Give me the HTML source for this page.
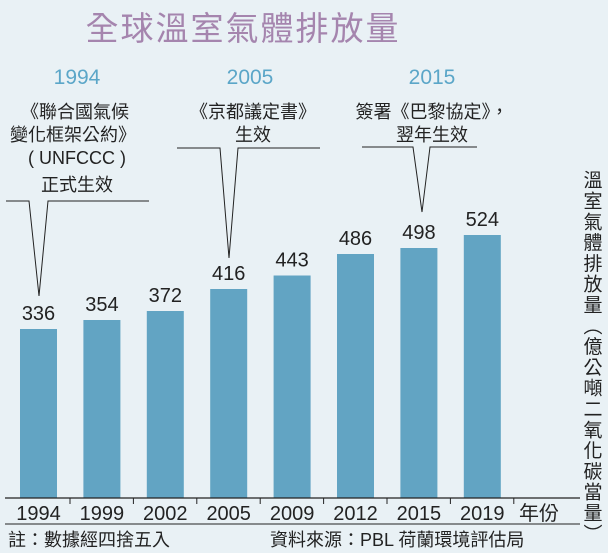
<!DOCTYPE html>
<html><head><meta charset="utf-8"><style>
body{margin:0;background:#e9f1f5;}
svg{display:block;font-family:"Liberation Sans","Noto Sans CJK TC",sans-serif;}
</style></head><body>
<svg width="608" height="553" viewBox="0 0 608 553" xmlns="http://www.w3.org/2000/svg">
<rect width="608" height="553" fill="#e9f1f5"/>
<text x="243" y="40" font-size="33" fill="#a585ae" text-anchor="middle" letter-spacing="2">全球溫室氣體排放量</text>
<g font-size="21" fill="#5ba6c8" text-anchor="middle">
<text x="77" y="84">1994</text>
<text x="250" y="84">2005</text>
<text x="432" y="84">2015</text>
</g>
<g font-size="18" fill="#222" text-anchor="middle">
<text x="75" y="118">《聯合國氣候</text>
<text x="73" y="141">變化框架公約》</text>
<text x="77" y="164">( UNFCCC )</text>
<text x="77" y="191">正式生效</text>
<text x="253" y="118">《京都議定書》</text>
<text x="253" y="141">生效</text>
<text x="432" y="118">簽署《巴黎協定》，</text>
<text x="432" y="141">翌年生效</text>
</g>
<g fill="none" stroke="#222" stroke-width="1">
<polyline points="6,201 29,201 39,296 48,201 149,201"/>
<polyline points="177,148 220,148 229,258 238,148 320,148"/>
<polyline points="362,147 413,147 422,212 430,147 477,147"/>
</g>
<g id="bars"></g>
<line x1="5" y1="498" x2="580" y2="498" stroke="#222" stroke-width="1.2"/>
<g id="ticks"></g>
<text x="519" y="520" font-size="20" fill="#222">年份</text>
<line x1="5" y1="524" x2="580" y2="524" stroke="#222" stroke-width="1"/>
<text x="8" y="546" font-size="18" fill="#222">註：數據經四捨五入</text>
<text x="270" y="546" font-size="18" fill="#222">資料來源：PBL 荷蘭環境評估局</text>
<text font-size="19" fill="#222" writing-mode="tb" x="591" y="170" letter-spacing="1.8">溫室氣體排放量（億公噸二氧化碳當量）</text>
</svg>
<script>
const categories=["1994","1999","2002","2005","2009","2012","2015","2019"];
const values=[336,354,372,416,443,486,498,524];
const NS="http://www.w3.org/2000/svg";
const x0=20,pitch=63.4,bw=37,base=497,k=0.5;
const xs=i=>x0+i*pitch, ys=v=>base-v*k;
const g=document.getElementById('bars'),tg=document.getElementById('ticks');
categories.forEach((c,i)=>{
 const r=document.createElementNS(NS,'rect');
 
 
 r.setAttribute('x',xs(i));r.setAttribute('y',ys(values[i]));
 r.setAttribute('width',bw);r.setAttribute('height',base-ys(values[i])+1);
 r.setAttribute('fill','#62a4c3');g.appendChild(r);
 const t=document.createElementNS(NS,'text');
 
 
 t.setAttribute('x',xs(i)+bw/2);t.setAttribute('y',ys(values[i])-9);
 t.setAttribute('text-anchor','middle');t.setAttribute('font-size','20');t.setAttribute('fill','#222');
 t.textContent=values[i];g.appendChild(t);
 const l=document.createElementNS(NS,'text');
 
 
 l.setAttribute('x',xs(i)+bw/2);l.setAttribute('y',520);
 l.setAttribute('text-anchor','middle');l.setAttribute('font-size','20');l.setAttribute('fill','#222');
 l.textContent=c;tg.appendChild(l);
 const tk=document.createElementNS(NS,'line');
 
 
 const tx=xs(i)+bw+13;
 tk.setAttribute('x1',tx);tk.setAttribute('x2',tx);tk.setAttribute('y1',498);tk.setAttribute('y2',504);
 tk.setAttribute('stroke','#222');tg.appendChild(tk);
});
</script>
</body></html>
